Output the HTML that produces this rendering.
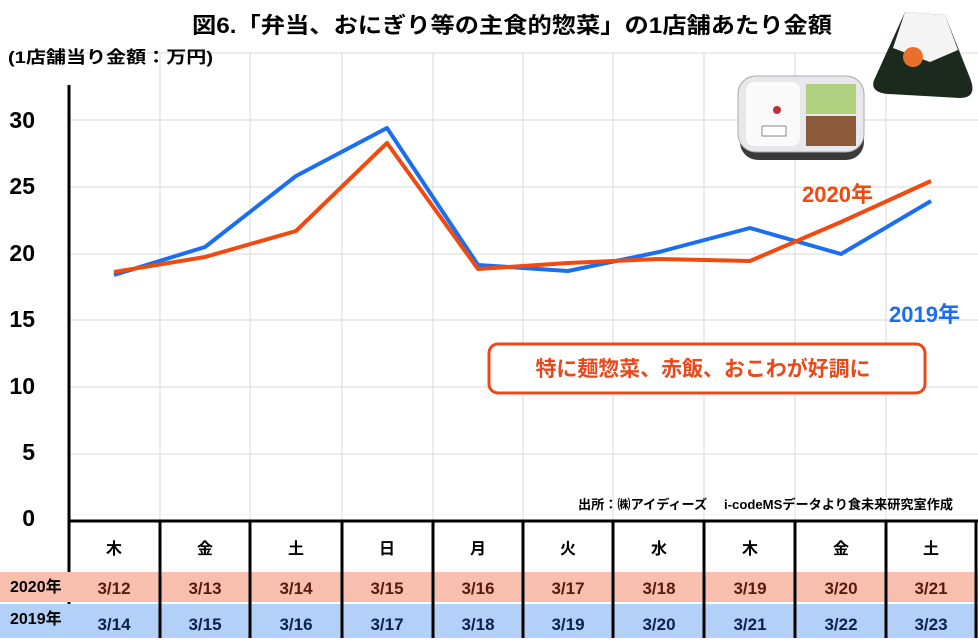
<!DOCTYPE html>
<html><head><meta charset="utf-8"><style>
body{margin:0;width:978px;height:638px;overflow:hidden;background:#fff;font-family:"Liberation Sans","Noto Sans CJK JP",sans-serif}
</style></head><body>
<svg width="978" height="638" xmlns="http://www.w3.org/2000/svg" font-family="Liberation Sans, Noto Sans CJK JP, sans-serif" font-weight="bold">
<g stroke="#d9d9d9" stroke-width="1">
<line x1="68" y1="53" x2="978" y2="53"/><line x1="68" y1="120" x2="978" y2="120"/><line x1="68" y1="187" x2="978" y2="187"/><line x1="68" y1="254" x2="978" y2="254"/><line x1="68" y1="320" x2="978" y2="320"/><line x1="68" y1="387" x2="978" y2="387"/><line x1="68" y1="454" x2="978" y2="454"/>
<line x1="160" y1="53" x2="160" y2="520"/><line x1="250" y1="53" x2="250" y2="520"/><line x1="342" y1="53" x2="342" y2="520"/><line x1="433" y1="53" x2="433" y2="520"/><line x1="523" y1="53" x2="523" y2="520"/><line x1="613" y1="53" x2="613" y2="520"/><line x1="704" y1="53" x2="704" y2="520"/><line x1="795" y1="53" x2="795" y2="520"/><line x1="886" y1="53" x2="886" y2="520"/>
</g>
<text x="512" y="33" font-size="22" text-anchor="middle" textLength="640" lengthAdjust="spacingAndGlyphs">図6.「弁当、おにぎり等の主食的惣菜」の1店舗あたり金額</text>
<text x="8" y="63" font-size="17" textLength="205" lengthAdjust="spacingAndGlyphs">(1店舗当り金額：万円)</text>
<g font-size="23" text-anchor="end">
<text x="35" y="128">30</text><text x="35" y="194">25</text><text x="35" y="261">20</text><text x="35" y="327">15</text><text x="35" y="394">10</text><text x="35" y="460">5</text><text x="35" y="526">0</text></g>
<line x1="69" y1="85" x2="69" y2="638" stroke="#000" stroke-width="3"/>
<g>
<rect x="740" y="78" width="124" height="82" rx="18" fill="#3a3a3a"/>
<rect x="738" y="76" width="126" height="76" rx="18" fill="#e8e8ec" stroke="#aaa"/>
<rect x="746" y="82" width="54" height="64" rx="8" fill="#fafafa"/>
<circle cx="777" cy="110" r="4" fill="#c0303a"/>
<rect x="762" y="126" width="24" height="10" fill="#fff" stroke="#888"/>
<rect x="806" y="84" width="50" height="30" fill="#b0d080"/>
<rect x="806" y="116" width="50" height="30" fill="#8a5a3a"/>
<path d="M875 78 L905 12 L945 15 L970 78 Q978 98 960 98 L888 94 Q868 92 875 78Z" fill="#1c2a1e"/>
<path d="M893 48 L905 12 L945 15 L958 50 L930 62 Z" fill="#f4f4f4"/>
<circle cx="913" cy="57" r="10" fill="#e8702a"/>
</g>
<polyline fill="none" stroke="#1a6ef0" stroke-width="4" stroke-linejoin="round" points="114,275 205,247 296,176 387,128 478,265 568,271 659,252 750,228 841,254 931,201"/>
<polyline fill="none" stroke="#f04a10" stroke-width="4" stroke-linejoin="round" points="114,272 205,257 296,231 387,143 478,269 568,263 659,259 750,261 841,222 931,181"/>
<text x="873" y="202" font-size="22" fill="#f04a10" text-anchor="end">2020年</text>
<text x="960" y="322" font-size="22" fill="#1a6ef0" text-anchor="end">2019年</text>
<rect x="489" y="344" width="436" height="49" rx="9" fill="#fff" stroke="#e8481a" stroke-width="3"/>
<text x="703" y="376" font-size="21" fill="#e8481a" text-anchor="middle" textLength="335" lengthAdjust="spacingAndGlyphs">特に麺惣菜、赤飯、おこわが好調に</text>
<text x="953" y="509" font-size="13" text-anchor="end" textLength="375" lengthAdjust="spacingAndGlyphs">出所：㈱アイディーズ　 i-codeMSデータより食未来研究室作成</text>
<rect x="0" y="572" width="978" height="30" fill="#f8bfae"/>
<rect x="0" y="604" width="978" height="34" fill="#b2d0f8"/>
<line x1="68" y1="521" x2="978" y2="521" stroke="#000" stroke-width="3"/>
<g stroke="#000" stroke-width="3">
<line x1="160" y1="521" x2="160" y2="638"/><line x1="250" y1="521" x2="250" y2="638"/><line x1="342" y1="521" x2="342" y2="638"/><line x1="433" y1="521" x2="433" y2="638"/><line x1="523" y1="521" x2="523" y2="638"/><line x1="613" y1="521" x2="613" y2="638"/><line x1="704" y1="521" x2="704" y2="638"/><line x1="795" y1="521" x2="795" y2="638"/><line x1="886" y1="521" x2="886" y2="638"/><line x1="976" y1="521" x2="976" y2="638"/>
</g>
<g font-size="16" text-anchor="middle">
<text x="114" y="554">木</text><text x="205" y="554">金</text><text x="296" y="554">土</text><text x="387" y="554">日</text><text x="478" y="554">月</text><text x="568" y="554">火</text><text x="659" y="554">水</text><text x="750" y="554">木</text><text x="841" y="554">金</text><text x="931" y="554">土</text>
</g>
<g font-size="17" text-anchor="middle" fill="#5a1a0a">
<text x="114" y="594">3/12</text><text x="205" y="594">3/13</text><text x="296" y="594">3/14</text><text x="387" y="594">3/15</text><text x="478" y="594">3/16</text><text x="568" y="594">3/17</text><text x="659" y="594">3/18</text><text x="750" y="594">3/19</text><text x="841" y="594">3/20</text><text x="931" y="594">3/21</text>
</g>
<g font-size="17" text-anchor="middle" fill="#0a2050">
<text x="114" y="630">3/14</text><text x="205" y="630">3/15</text><text x="296" y="630">3/16</text><text x="387" y="630">3/17</text><text x="478" y="630">3/18</text><text x="568" y="630">3/19</text><text x="659" y="630">3/20</text><text x="750" y="630">3/21</text><text x="841" y="630">3/22</text><text x="931" y="630">3/23</text>
</g>
<text x="10" y="592" font-size="16">2020年</text>
<text x="10" y="624" font-size="16">2019年</text>
</svg>
</body></html>
